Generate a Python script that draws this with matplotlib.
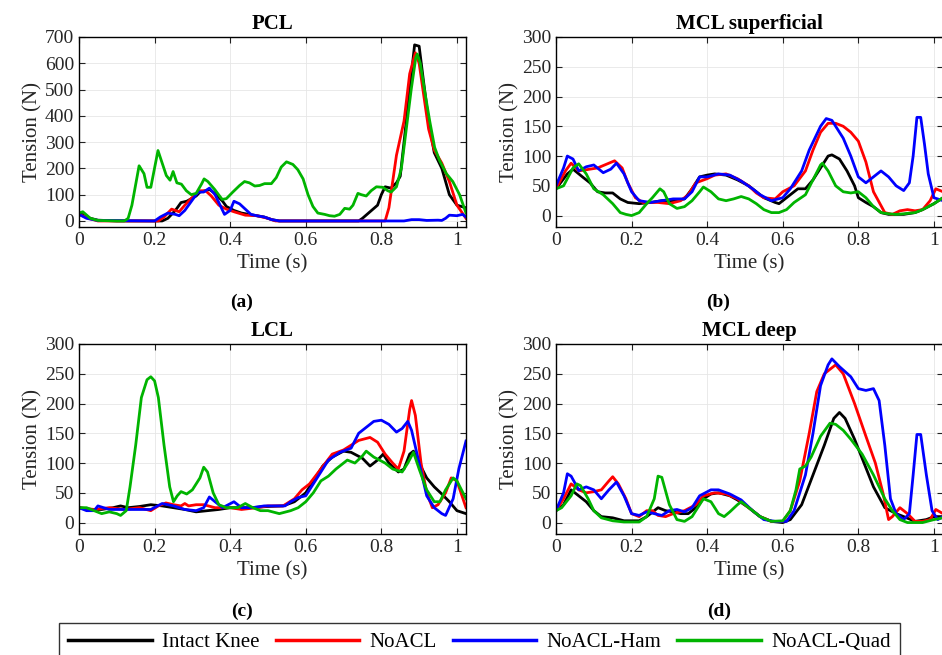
import matplotlib.pyplot as plt
import numpy as np

plt.rcParams['font.family'] = ['Liberation Serif', 'DejaVu Serif']

# Ligament tension (N) vs time (s) as (t, value) pairs
pcl_intact = [(0, 30), (0.03, 10), (0.05, 3), (0.1, 0), (0.22, 0), (0.235, 10), (0.255, 40), (0.27, 70),
              (0.285, 75), (0.31, 95), (0.32, 110), (0.335, 115), (0.345, 120), (0.36, 105), (0.38, 75),
              (0.39, 55), (0.41, 40), (0.43, 30), (0.45, 25), (0.47, 20), (0.49, 15), (0.51, 5), (0.53, 0),
              (0.74, 0), (0.75, 10), (0.77, 35), (0.79, 60), (0.80, 100), (0.81, 130), (0.825, 125),
              (0.84, 145), (0.85, 170), (0.86, 300), (0.875, 500), (0.888, 670), (0.9, 665), (0.91, 550),
              (0.925, 380), (0.94, 260), (0.96, 200), (0.98, 100), (1.0, 60), (1.024, 50)]
pcl_noacl = [(0, 25), (0.03, 8), (0.05, 0), (0.21, 0), (0.225, 15), (0.245, 45), (0.265, 35), (0.28, 60),
             (0.3, 90), (0.32, 115), (0.335, 115), (0.35, 95), (0.37, 60), (0.39, 45), (0.41, 35),
             (0.44, 22), (0.47, 20), (0.5, 10), (0.52, 0), (0.81, 0), (0.82, 50), (0.84, 250),
             (0.86, 380), (0.875, 560), (0.89, 640), (0.9, 600), (0.91, 500), (0.925, 350), (0.94, 270),
             (0.96, 220), (0.98, 150), (1.0, 60), (1.024, 10)]
pcl_ham = [(0, 25), (0.02, 10), (0.05, 2), (0.2, 0), (0.215, 15), (0.235, 30), (0.255, 25), (0.265, 20),
           (0.28, 40), (0.3, 80), (0.315, 110), (0.33, 110), (0.345, 125), (0.36, 100), (0.375, 55),
           (0.385, 25), (0.4, 40), (0.41, 75), (0.425, 65), (0.44, 45), (0.455, 25), (0.47, 20),
           (0.49, 15), (0.51, 5), (0.53, 0), (0.86, 0), (0.88, 5), (0.9, 5), (0.92, 2), (0.95, 3),
           (0.96, 2), (0.97, 10), (0.98, 22), (1.0, 20), (1.015, 25), (1.024, 15)]
pcl_quad = [(0, 30), (0.01, 35), (0.03, 10), (0.05, 2), (0.1, 0), (0.12, 0), (0.13, 10), (0.14, 60),
            (0.159, 210), (0.172, 180), (0.18, 128), (0.19, 128), (0.209, 268), (0.231, 173),
            (0.241, 155), (0.249, 188), (0.259, 145), (0.271, 140), (0.284, 115), (0.297, 100),
            (0.31, 105), (0.324, 140), (0.331, 160), (0.341, 150), (0.359, 120), (0.372, 95),
            (0.379, 82), (0.39, 85), (0.407, 110), (0.425, 135), (0.438, 150), (0.451, 145),
            (0.465, 133), (0.478, 135), (0.491, 142), (0.509, 142), (0.522, 165), (0.535, 205),
            (0.549, 225), (0.566, 215), (0.579, 195), (0.593, 160), (0.606, 100), (0.619, 55),
            (0.632, 30), (0.65, 25), (0.663, 20), (0.676, 18), (0.69, 25), (0.703, 48), (0.716, 45),
            (0.725, 60), (0.738, 105), (0.747, 100), (0.76, 95), (0.773, 115), (0.787, 130),
            (0.804, 128), (0.817, 115), (0.826, 110), (0.84, 130), (0.853, 200), (0.866, 350),
            (0.879, 500), (0.891, 620), (0.895, 635), (0.903, 600), (0.914, 500), (0.928, 380),
            (0.941, 280), (0.954, 230), (0.972, 180), (0.989, 150), (1.007, 100), (1.024, 30)]

mcls_intact = [(0, 45), (0.03, 70), (0.045, 78), (0.07, 65), (0.09, 55), (0.11, 40), (0.13, 38),
               (0.15, 38), (0.17, 28), (0.19, 22), (0.22, 20), (0.25, 22), (0.28, 25), (0.31, 25),
               (0.34, 28), (0.36, 45), (0.38, 65), (0.4, 68), (0.42, 70), (0.45, 68), (0.48, 60),
               (0.51, 50), (0.53, 40), (0.55, 30), (0.58, 22), (0.59, 20), (0.61, 30), (0.64, 45),
               (0.66, 45), (0.68, 60), (0.71, 90), (0.72, 100), (0.73, 102), (0.75, 95), (0.77, 75),
               (0.79, 50), (0.8, 30), (0.82, 22), (0.84, 15), (0.86, 5), (0.88, 2), (0.92, 2),
               (0.95, 5), (0.97, 10), (1.0, 20), (1.024, 30)]
mcls_noacl = [(0, 45), (0.025, 75), (0.04, 88), (0.06, 75), (0.09, 78), (0.11, 80), (0.14, 88),
              (0.155, 92), (0.175, 80), (0.19, 55), (0.21, 30), (0.23, 22), (0.27, 22), (0.3, 20),
              (0.33, 25), (0.35, 35), (0.37, 55), (0.4, 62), (0.42, 68), (0.45, 70), (0.48, 62),
              (0.51, 50), (0.53, 38), (0.55, 30), (0.58, 28), (0.6, 40), (0.63, 50), (0.66, 75),
              (0.68, 110), (0.7, 140), (0.72, 155), (0.74, 155), (0.76, 150), (0.78, 140), (0.8, 125),
              (0.82, 90), (0.84, 40), (0.87, 5), (0.89, 2), (0.91, 8), (0.93, 10), (0.95, 8),
              (0.97, 10), (0.99, 25), (1.005, 45), (1.024, 40)]
mcls_ham = [(0, 50), (0.02, 80), (0.03, 100), (0.045, 95), (0.06, 75), (0.08, 82), (0.1, 85),
            (0.125, 72), (0.145, 78), (0.16, 88), (0.18, 70), (0.2, 40), (0.22, 25), (0.25, 22),
            (0.28, 25), (0.31, 28), (0.34, 28), (0.36, 40), (0.38, 65), (0.4, 65), (0.43, 70),
            (0.46, 68), (0.49, 58), (0.52, 45), (0.54, 35), (0.57, 25), (0.6, 30), (0.62, 45),
            (0.65, 75), (0.67, 110), (0.7, 150), (0.715, 163), (0.73, 160), (0.76, 130), (0.78, 100),
            (0.8, 65), (0.82, 55), (0.84, 65), (0.86, 75), (0.88, 65), (0.9, 50), (0.92, 42),
            (0.935, 55), (0.945, 100), (0.955, 165), (0.965, 165), (0.975, 120), (0.985, 70),
            (1.0, 30), (1.024, 25)]
mcls_quad = [(0, 45), (0.02, 50), (0.045, 80), (0.06, 87), (0.08, 70), (0.1, 45), (0.125, 35),
             (0.15, 20), (0.17, 5), (0.185, 2), (0.2, 0), (0.22, 5), (0.24, 20), (0.255, 30),
             (0.275, 45), (0.285, 40), (0.3, 20), (0.32, 12), (0.34, 15), (0.36, 25), (0.38, 40),
             (0.39, 48), (0.41, 40), (0.43, 28), (0.45, 25), (0.47, 28), (0.49, 32), (0.51, 28),
             (0.53, 20), (0.55, 10), (0.57, 5), (0.59, 5), (0.61, 10), (0.63, 22), (0.66, 35),
             (0.68, 60), (0.7, 85), (0.705, 88), (0.72, 75), (0.74, 50), (0.76, 40), (0.78, 38),
             (0.8, 40), (0.82, 30), (0.84, 15), (0.86, 5), (0.88, 3), (0.9, 2), (0.92, 3),
             (0.95, 5), (0.97, 10), (1.0, 20), (1.024, 30)]

lcl_intact = [(0, 25), (0.03, 22), (0.06, 22), (0.09, 25), (0.11, 28), (0.13, 25), (0.16, 27),
              (0.19, 30), (0.22, 28), (0.25, 25), (0.28, 22), (0.31, 18), (0.34, 20), (0.37, 22),
              (0.4, 25), (0.45, 25), (0.5, 27), (0.54, 28), (0.57, 35), (0.6, 50), (0.62, 70),
              (0.645, 95), (0.67, 110), (0.7, 120), (0.72, 118), (0.75, 108), (0.77, 95), (0.79, 105),
              (0.805, 115), (0.82, 100), (0.845, 85), (0.86, 90), (0.875, 115), (0.885, 120),
              (0.9, 100), (0.92, 75), (0.94, 60), (0.96, 48), (0.98, 35), (1.0, 20), (1.024, 15)]
lcl_noacl = [(0, 25), (0.04, 22), (0.08, 25), (0.12, 22), (0.16, 25), (0.19, 20), (0.21, 28),
             (0.23, 33), (0.25, 30), (0.27, 28), (0.28, 32), (0.29, 28), (0.31, 30), (0.33, 30),
             (0.36, 25), (0.4, 25), (0.43, 22), (0.47, 25), (0.5, 28), (0.54, 28), (0.57, 40),
             (0.59, 55), (0.61, 65), (0.64, 90), (0.67, 115), (0.7, 122), (0.72, 130), (0.74, 138),
             (0.77, 143), (0.79, 135), (0.81, 115), (0.83, 100), (0.845, 90), (0.86, 120),
             (0.875, 190), (0.88, 205), (0.89, 180), (0.905, 100), (0.92, 50), (0.935, 25),
             (0.95, 30), (0.97, 50), (0.985, 75), (1.0, 70), (1.024, 25)]
lcl_ham = [(0, 25), (0.02, 20), (0.04, 20), (0.05, 28), (0.08, 22), (0.12, 22), (0.15, 22),
           (0.19, 22), (0.22, 32), (0.25, 28), (0.28, 22), (0.31, 20), (0.33, 25), (0.345, 43),
           (0.36, 35), (0.38, 25), (0.41, 35), (0.43, 25), (0.46, 25), (0.49, 28), (0.52, 28),
           (0.545, 28), (0.56, 35), (0.58, 42), (0.6, 45), (0.63, 75), (0.66, 105), (0.69, 118),
           (0.72, 125), (0.74, 150), (0.76, 160), (0.78, 170), (0.8, 172), (0.82, 165), (0.84, 152),
           (0.855, 158), (0.87, 170), (0.88, 155), (0.9, 100), (0.92, 45), (0.94, 25), (0.96, 15),
           (0.97, 12), (0.99, 40), (1.005, 90), (1.024, 137)]
lcl_quad = [(0, 25), (0.02, 25), (0.04, 20), (0.06, 15), (0.08, 18), (0.1, 15), (0.11, 12),
            (0.125, 20), (0.135, 60), (0.15, 130), (0.165, 210), (0.18, 240), (0.19, 245),
            (0.2, 238), (0.21, 210), (0.225, 130), (0.24, 60), (0.25, 35), (0.26, 45), (0.27, 52),
            (0.285, 48), (0.3, 55), (0.32, 75), (0.33, 93), (0.34, 85), (0.355, 50), (0.37, 30),
            (0.39, 25), (0.42, 25), (0.44, 32), (0.46, 25), (0.48, 20), (0.5, 20), (0.53, 15),
            (0.56, 20), (0.58, 25), (0.6, 35), (0.62, 50), (0.64, 70), (0.66, 78), (0.68, 90),
            (0.71, 105), (0.73, 100), (0.75, 112), (0.76, 120), (0.78, 110), (0.81, 100), (0.83, 90),
            (0.855, 85), (0.87, 100), (0.885, 118), (0.9, 90), (0.92, 55), (0.94, 35), (0.955, 35),
            (0.97, 55), (0.99, 75), (1.0, 70), (1.024, 40)]

mcld_intact = [(0, 20), (0.02, 30), (0.04, 55), (0.06, 45), (0.08, 35), (0.1, 20), (0.12, 10),
               (0.15, 8), (0.18, 3), (0.22, 3), (0.24, 10), (0.26, 20), (0.27, 25), (0.29, 20),
               (0.31, 18), (0.33, 15), (0.35, 15), (0.37, 25), (0.39, 40), (0.41, 48), (0.43, 50),
               (0.46, 45), (0.48, 38), (0.51, 25), (0.54, 10), (0.57, 2), (0.6, 0), (0.62, 5),
               (0.65, 30), (0.68, 80), (0.71, 130), (0.735, 175), (0.75, 185), (0.765, 175),
               (0.79, 140), (0.815, 100), (0.84, 60), (0.87, 25), (0.9, 15), (0.92, 10), (0.95, 2),
               (0.98, 5), (1.0, 10), (1.024, 10)]
mcld_noacl = [(0, 20), (0.02, 40), (0.04, 65), (0.06, 55), (0.08, 50), (0.1, 52), (0.12, 55),
              (0.14, 70), (0.15, 77), (0.165, 65), (0.185, 40), (0.2, 15), (0.22, 10), (0.24, 20),
              (0.255, 20), (0.27, 12), (0.29, 10), (0.31, 15), (0.34, 20), (0.37, 30), (0.39, 45),
              (0.42, 50), (0.45, 48), (0.48, 40), (0.51, 25), (0.54, 10), (0.57, 2), (0.6, 2),
              (0.62, 20), (0.645, 70), (0.67, 150), (0.69, 220), (0.71, 250), (0.74, 265), (0.76, 250),
              (0.79, 200), (0.82, 145), (0.845, 100), (0.865, 50), (0.88, 5), (0.89, 10), (0.91, 25),
              (0.93, 15), (0.95, 2), (0.97, 2), (0.99, 5), (1.005, 22), (1.024, 15)]
mcld_ham = [(0, 20), (0.02, 50), (0.03, 82), (0.04, 78), (0.06, 55), (0.08, 60), (0.1, 55),
            (0.12, 40), (0.14, 55), (0.16, 68), (0.18, 45), (0.2, 15), (0.22, 12), (0.24, 18),
            (0.26, 15), (0.28, 12), (0.3, 20), (0.32, 22), (0.34, 18), (0.36, 25), (0.38, 45),
            (0.41, 55), (0.43, 55), (0.46, 48), (0.49, 38), (0.52, 20), (0.55, 5), (0.58, 2),
            (0.61, 2), (0.63, 20), (0.66, 80), (0.68, 150), (0.7, 230), (0.72, 265), (0.73, 275),
            (0.75, 262), (0.78, 245), (0.8, 225), (0.82, 222), (0.84, 225), (0.855, 205),
            (0.87, 130), (0.885, 40), (0.9, 15), (0.92, 5), (0.935, 15), (0.945, 80), (0.955, 148),
            (0.965, 148), (0.98, 80), (0.995, 20), (1.01, 5), (1.024, 10)]
mcld_quad = [(0, 20), (0.015, 25), (0.04, 45), (0.055, 65), (0.065, 62), (0.085, 40), (0.1, 20),
             (0.12, 8), (0.15, 3), (0.18, 1), (0.22, 1), (0.24, 10), (0.26, 40), (0.27, 78),
             (0.28, 76), (0.3, 30), (0.32, 5), (0.34, 2), (0.36, 10), (0.38, 30), (0.39, 40),
             (0.41, 35), (0.43, 15), (0.445, 10), (0.46, 18), (0.48, 30), (0.49, 35), (0.51, 25),
             (0.54, 10), (0.57, 2), (0.6, 3), (0.62, 20), (0.635, 55), (0.645, 90), (0.66, 95),
             (0.675, 110), (0.7, 145), (0.725, 167), (0.74, 165), (0.76, 155), (0.78, 140),
             (0.81, 115), (0.84, 80), (0.87, 40), (0.89, 20), (0.91, 5), (0.93, 0), (0.97, 0),
             (1.0, 5), (1.024, 8)]

labels = ['Intact Knee', 'NoACL', 'NoACL-Ham', 'NoACL-Quad']
colors = ['#000000', '#ff0000', '#0000ff', '#00b400']

panels = [
    ('PCL', '(a)', [pcl_intact, pcl_noacl, pcl_ham, pcl_quad], 700, 100),
    ('MCL superficial', '(b)', [mcls_intact, mcls_noacl, mcls_ham, mcls_quad], 300, 50),
    ('LCL', '(c)', [lcl_intact, lcl_noacl, lcl_ham, lcl_quad], 300, 50),
    ('MCL deep', '(d)', [mcld_intact, mcld_noacl, mcld_ham, mcld_quad], 300, 50),
]

W, H = 942, 655
fig = plt.figure(figsize=(W / 100, H / 100), dpi=100)

# axes boxes in pixels: left, top
boxes = [(79, 37), (556, 37), (79, 344), (556, 344)]
ax_w, ax_h = 387, 190
sub_x = [242, 718, 242, 719]
sub_y = [302, 302, 611, 611]

for (title, tag, series, ymax, ystep), (lx, ty), sx, sy in zip(panels, boxes, sub_x, sub_y):
    ax = fig.add_axes([lx / W, 1 - (ty + ax_h) / H, ax_w / W, ax_h / H])
    for data, lab, c in zip(series, labels, colors):
        t, v = zip(*data)
        ax.plot(t, v, color=c, lw=2.0, label=lab)
    ax.set_xlim(0, 1.024)
    ax.set_ylim(-ymax * 0.064 if ymax == 300 else -23, ymax)
    ax.set_xticks(np.arange(0, 1.01, 0.2))
    ax.set_xticklabels(['0', '0.2', '0.4', '0.6', '0.8', '1'])
    ax.set_yticks(np.arange(0, ymax + 1, ystep))
    ax.tick_params(direction='in', top=True, right=True, labelsize=14, length=4, width=0.8,
                   colors='#222222', labelcolor='#262626')
    ax.grid(True, color='#e6e6e6', lw=0.6)
    ax.set_axisbelow(True)
    for s in ax.spines.values():
        s.set_linewidth(1.0)
    ax.set_title(title, fontsize=15, fontweight='bold', pad=6)
    ax.set_xlabel('Time (s)', fontsize=15, labelpad=4, color='#262626')
    ax.set_ylabel('Tension (N)', fontsize=15, labelpad=2, color='#262626')
    fig.text(sx / W, 1 - sy / H, tag, ha='center', va='center', fontsize=14, fontweight='bold')

handles = [plt.Line2D([], [], color=c, lw=2.5) for c in colors]
fig.legend(handles, labels, loc='upper left', bbox_to_anchor=(59 / W, 0, 841 / W, 1 - 623 / H),
           mode='expand', ncol=4, fontsize=15, frameon=True, fancybox=False, edgecolor='#333333',
           handlelength=4.0, borderpad=0.45, borderaxespad=0, handletextpad=0.5, framealpha=1)

fig.savefig('out.png', dpi=100)
